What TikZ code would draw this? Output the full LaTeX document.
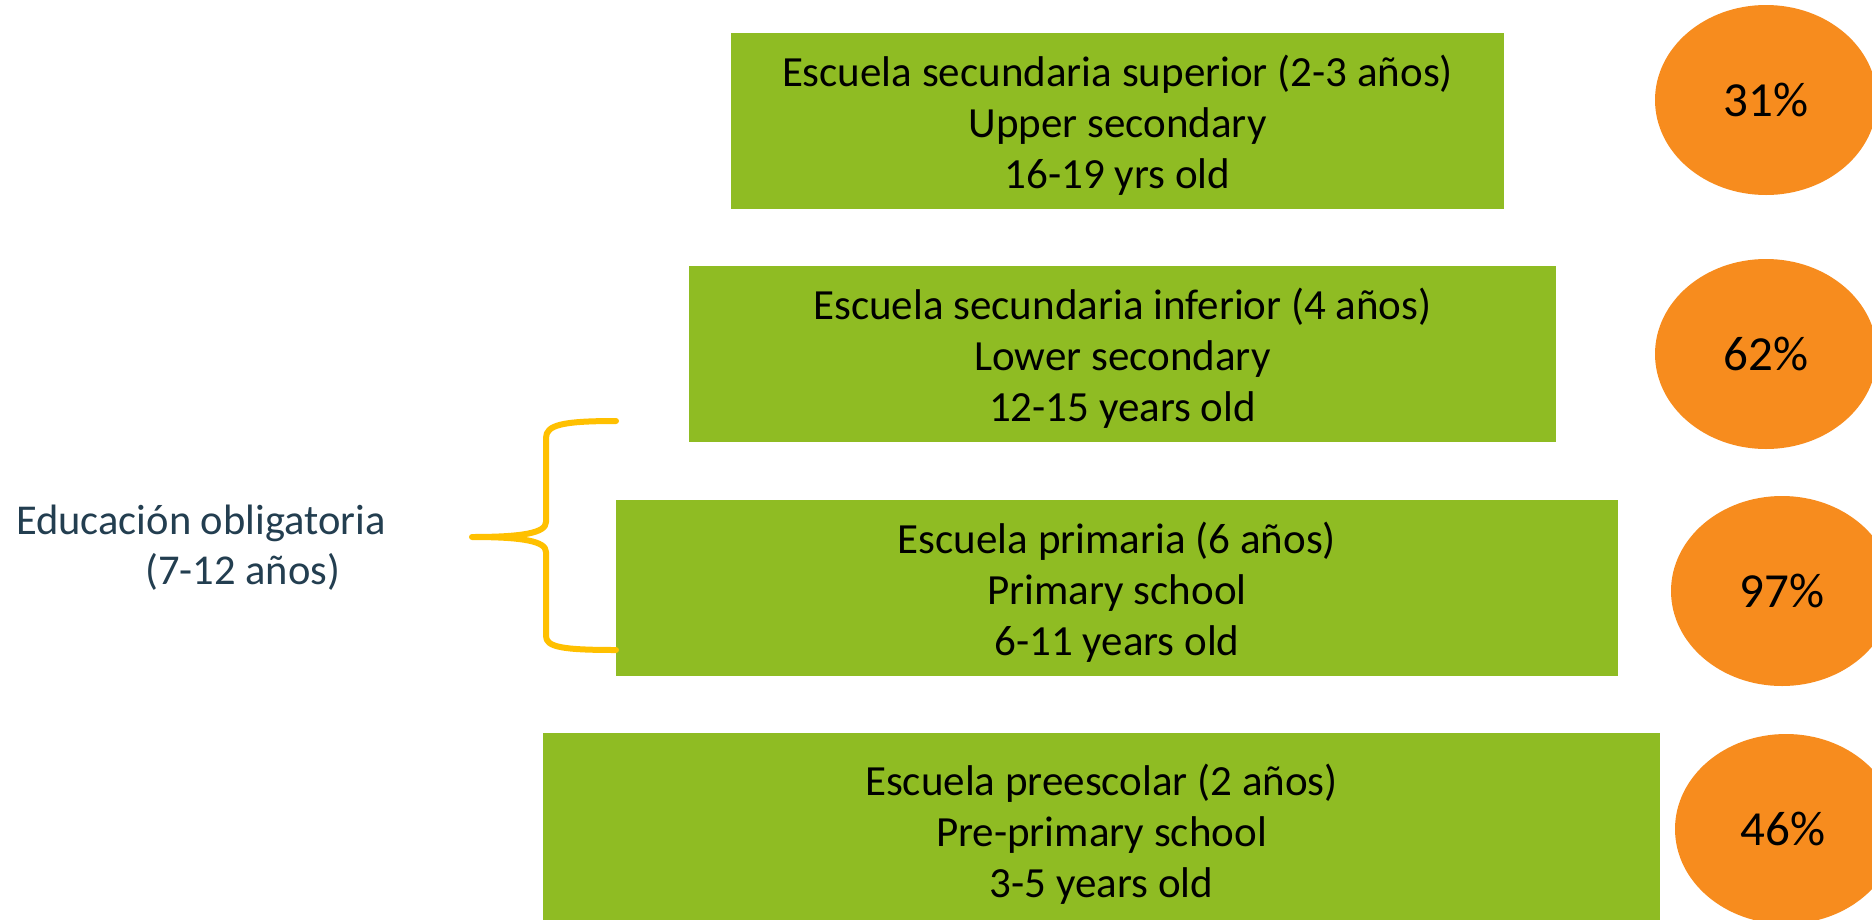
\documentclass[tikz,border=0pt]{standalone}
\usepackage{fontspec}
\setmainfont{Carlito}
\usetikzlibrary{shapes.geometric}
\definecolor{boxgreen}{RGB}{143,188,35}
\definecolor{circorange}{RGB}{247,140,30}
\definecolor{braceyellow}{RGB}{255,192,0}
\definecolor{lefttext}{RGB}{35,62,80}
\tikzset{
  levelbox/.style={fill=boxgreen, draw=none, inner sep=0pt},
  leveltext/.style={inner sep=0pt, align=center,
    font=\fontsize{43}{51}\selectfont, text=black},
  ratecirc/.style={ellipse, fill=circorange, draw=none, inner sep=0pt,
    minimum width=222pt, minimum height=190pt, font=\fontsize{49}{55}\selectfont, text=black},
  bracestyle/.style={draw=braceyellow, line width=6pt, line cap=round, line join=round},
  sidetext/.style={font=\fontsize{42.5}{51}\selectfont, text=lefttext, inner sep=0pt, anchor=base west}
}
\begin{document}
\begin{tikzpicture}[x=1pt,y=-1pt]
\clip (0,0) rectangle (1872,919);
\fill[white] (0,0) rectangle (1872,919);

\node[levelbox, minimum width=773pt, minimum height=176pt] (b1) at (1117.5,121) {};
\node[leveltext] (b1t) at ([yshift=-4pt]b1.center)
  {Escuela secundaria superior (2-3 años)\\Upper secondary\\16-19 yrs old};
\node[levelbox, minimum width=867pt, minimum height=176pt] (b2) at (1122.5,354) {};
\node[leveltext] (b2t) at ([yshift=-4pt]b2.center)
  {Escuela secundaria inferior (4 años)\\Lower secondary\\12-15 years old};
\node[levelbox, minimum width=1002pt, minimum height=176pt] (b3) at (1117,588) {};
\node[leveltext] (b3t) at ([yshift=-4pt]b3.center)
  {Escuela primaria (6 años)\\Primary school\\6-11 years old};
\node[levelbox, minimum width=1117pt, minimum height=194pt] (b4) at (1101.5,830) {};
\node[leveltext] (b4t) at ([yshift=-4pt]b4.center)
  {Escuela preescolar (2 años)\\Pre-primary school\\3-5 years old};

\node[ratecirc] (c1) at (1766,100) {31\%};
\node[ratecirc] (c2) at (1766,354) {62\%};
\node[ratecirc] (c3) at (1782,591) {97\%};
\node[ratecirc] (c4) at (1786,829) {\hspace*{-6pt}46\%};

\node[sidetext] (t1) at (16,534) {Educación obligatoria};
\node[sidetext] (t2) at (145,584) {(7-12 años)};

\coordinate (bt) at (616,421);
\coordinate (bm) at (472,537);
\coordinate (bb) at (616,650);
\draw[bracestyle] (bt) .. controls (562,421) and (546,425) .. (546,438)
  -- (546,522) .. controls (546,533) and (522,537) .. (bm)
  .. controls (522,537) and (546,541) .. (546,552)
  -- (546,636) .. controls (546,647) and (562,650) .. (bb);
\end{tikzpicture}
\end{document}
